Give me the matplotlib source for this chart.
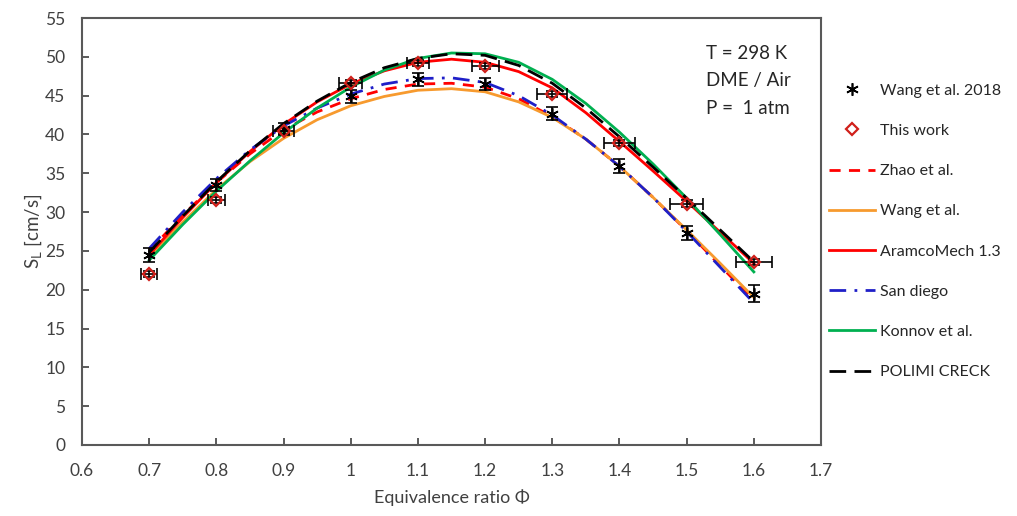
import numpy as np
import matplotlib
matplotlib.use('Agg')
import matplotlib.pyplot as plt

plt.rcParams['font.family'] = ['Lato', 'DejaVu Sans']

# experimental data
phi_exp = [0.7, 0.8, 0.9, 1.0, 1.1, 1.2, 1.3, 1.4, 1.5, 1.6]
wang2018 = [24.5, 33.5, 40.7, 44.9, 47.1, 46.5, 42.7, 35.9, 27.3, 19.5]
wang2018_err = [0.9, 0.8, 0.8, 0.8, 0.8, 0.8, 0.8, 0.9, 0.9, 1.1]
this_work = [22.0, 31.6, 40.5, 46.6, 49.2, 48.8, 45.2, 38.9, 31.1, 23.6]
this_work_xerr = [0.012, 0.013, 0.015, 0.017, 0.016, 0.020, 0.022, 0.023, 0.025, 0.027]

# model predictions
phi_sim = [0.70, 0.75, 0.80, 0.85, 0.90, 0.95, 1.00, 1.05, 1.10, 1.15,
           1.20, 1.25, 1.30, 1.35, 1.40, 1.45, 1.50, 1.55, 1.60]
zhao = [25.0, 29.6, 33.8, 37.5, 40.6, 42.9, 44.6, 45.8, 46.5, 46.6,
        46.1, 44.6, 42.3, 39.4, 35.9, 31.9, 27.6, 23.1, 18.6]
wang = [24.2, 28.7, 32.9, 36.5, 39.5, 41.9, 43.7, 44.9, 45.7, 45.9,
        45.5, 44.2, 42.2, 39.4, 35.9, 31.9, 27.7, 23.4, 19.0]
aramco = [24.5, 29.3, 33.8, 37.8, 41.3, 44.2, 46.5, 48.2, 49.3, 49.7,
          49.3, 48.1, 46.0, 42.8, 39.1, 35.3, 31.4, 27.4, 23.4]
san_diego = [25.3, 30.0, 34.3, 38.0, 41.1, 43.4, 45.2, 46.5, 47.2, 47.3,
             46.7, 45.0, 42.5, 39.4, 35.9, 31.9, 27.5, 22.9, 18.3]
konnov = [23.8, 28.4, 32.7, 36.6, 40.2, 43.4, 46.1, 48.3, 49.8, 50.5,
          50.4, 49.3, 47.1, 44.0, 40.3, 36.2, 31.8, 27.1, 22.3]
polimi = [24.8, 29.5, 33.9, 37.9, 41.4, 44.3, 46.7, 48.6, 49.8, 50.4,
          50.2, 48.9, 46.6, 43.4, 39.7, 35.8, 31.8, 27.7, 23.6]

fig = plt.figure(figsize=(10.17, 5.16), dpi=100)
ax = fig.add_axes([0.0806, 0.1376, 0.7267, 0.8274])

lw = 2.0
ax.plot(phi_sim, zhao, color='#FF0000', lw=lw, ls=(0, (4, 3)), label='Zhao et al.')
ax.plot(phi_sim, wang, color='#F79A2E', lw=lw, label='Wang et al.')
ax.plot(phi_sim, aramco, color='#FF0000', lw=lw, label='AramcoMech 1.3')
ax.plot(phi_sim, san_diego, color='#1F1FC8', lw=lw, ls=(0, (6, 3, 1, 3)), label='San diego')
ax.plot(phi_sim, konnov, color='#00B050', lw=lw, label='Konnov et al.')
ax.plot(phi_sim, polimi, color='black', lw=lw, ls=(0, (6, 3)), label='POLIMI CRECK')

ax.errorbar(phi_exp, wang2018, yerr=wang2018_err, fmt='none', ecolor='black',
            elinewidth=1.2, capsize=4, capthick=1.2, zorder=5)
ax.plot(phi_exp, wang2018, ls='none', marker=(6, 2, 0), ms=9, mec='black',
        mew=1.2, color='black', label='Wang et al. 2018', zorder=6)
ax.errorbar(phi_exp, this_work, xerr=this_work_xerr, yerr=0.4, fmt='none',
            ecolor='black', elinewidth=1.2, capsize=4, capthick=1.2, zorder=5)
ax.plot(phi_exp, this_work, ls='none', marker='D', ms=6.5, mfc='none',
        mec='#D0201A', mew=1.6, label='This work', zorder=6)

ax.set_xlim(0.6, 1.7)
ax.set_ylim(0, 55)
ax.set_xticks(np.arange(0.6, 1.71, 0.1))
ax.set_xticklabels(['0.6', '0.7', '0.8', '0.9', '1', '1.1', '1.2', '1.3', '1.4',
                    '1.5', '1.6', '1.7'])
ax.set_yticks(np.arange(0, 56, 5))
ax.tick_params(direction='in', length=5, width=1.2, color='#404040',
               labelsize=12.5, labelcolor='#404040')
ax.tick_params(axis='x', pad=13)
ax.tick_params(axis='y', pad=12)
for sp in ax.spines.values():
    sp.set_color('#595959')
    sp.set_linewidth(1.5)

ax.set_xlabel('Equivalence ratio Φ', fontsize=13, color='#404040', labelpad=7)
ax.set_ylabel('S$_\\mathregular{L}$ [cm/s]', fontsize=13.5, color='#404040', labelpad=1)

ax.text(0.845, 0.937, 'T = 298 K\nDME / Air\nP =  1 atm', transform=ax.transAxes,
        ha='left', va='top', fontsize=13.5, color='#262626', linespacing=1.75)

h, l = ax.get_legend_handles_labels()
order = ['Wang et al. 2018', 'This work', 'Zhao et al.', 'Wang et al.',
         'AramcoMech 1.3', 'San diego', 'Konnov et al.', 'POLIMI CRECK']
hd = dict(zip(l, h))
fig.legend([hd[k] for k in order], order, loc='upper left',
           bbox_to_anchor=(0.801, 0.866), frameon=False, fontsize=11.5,
           labelspacing=1.63, handlelength=2.9, handletextpad=0.3,
           labelcolor='#262626')

fig.savefig('out.png', dpi=100)
